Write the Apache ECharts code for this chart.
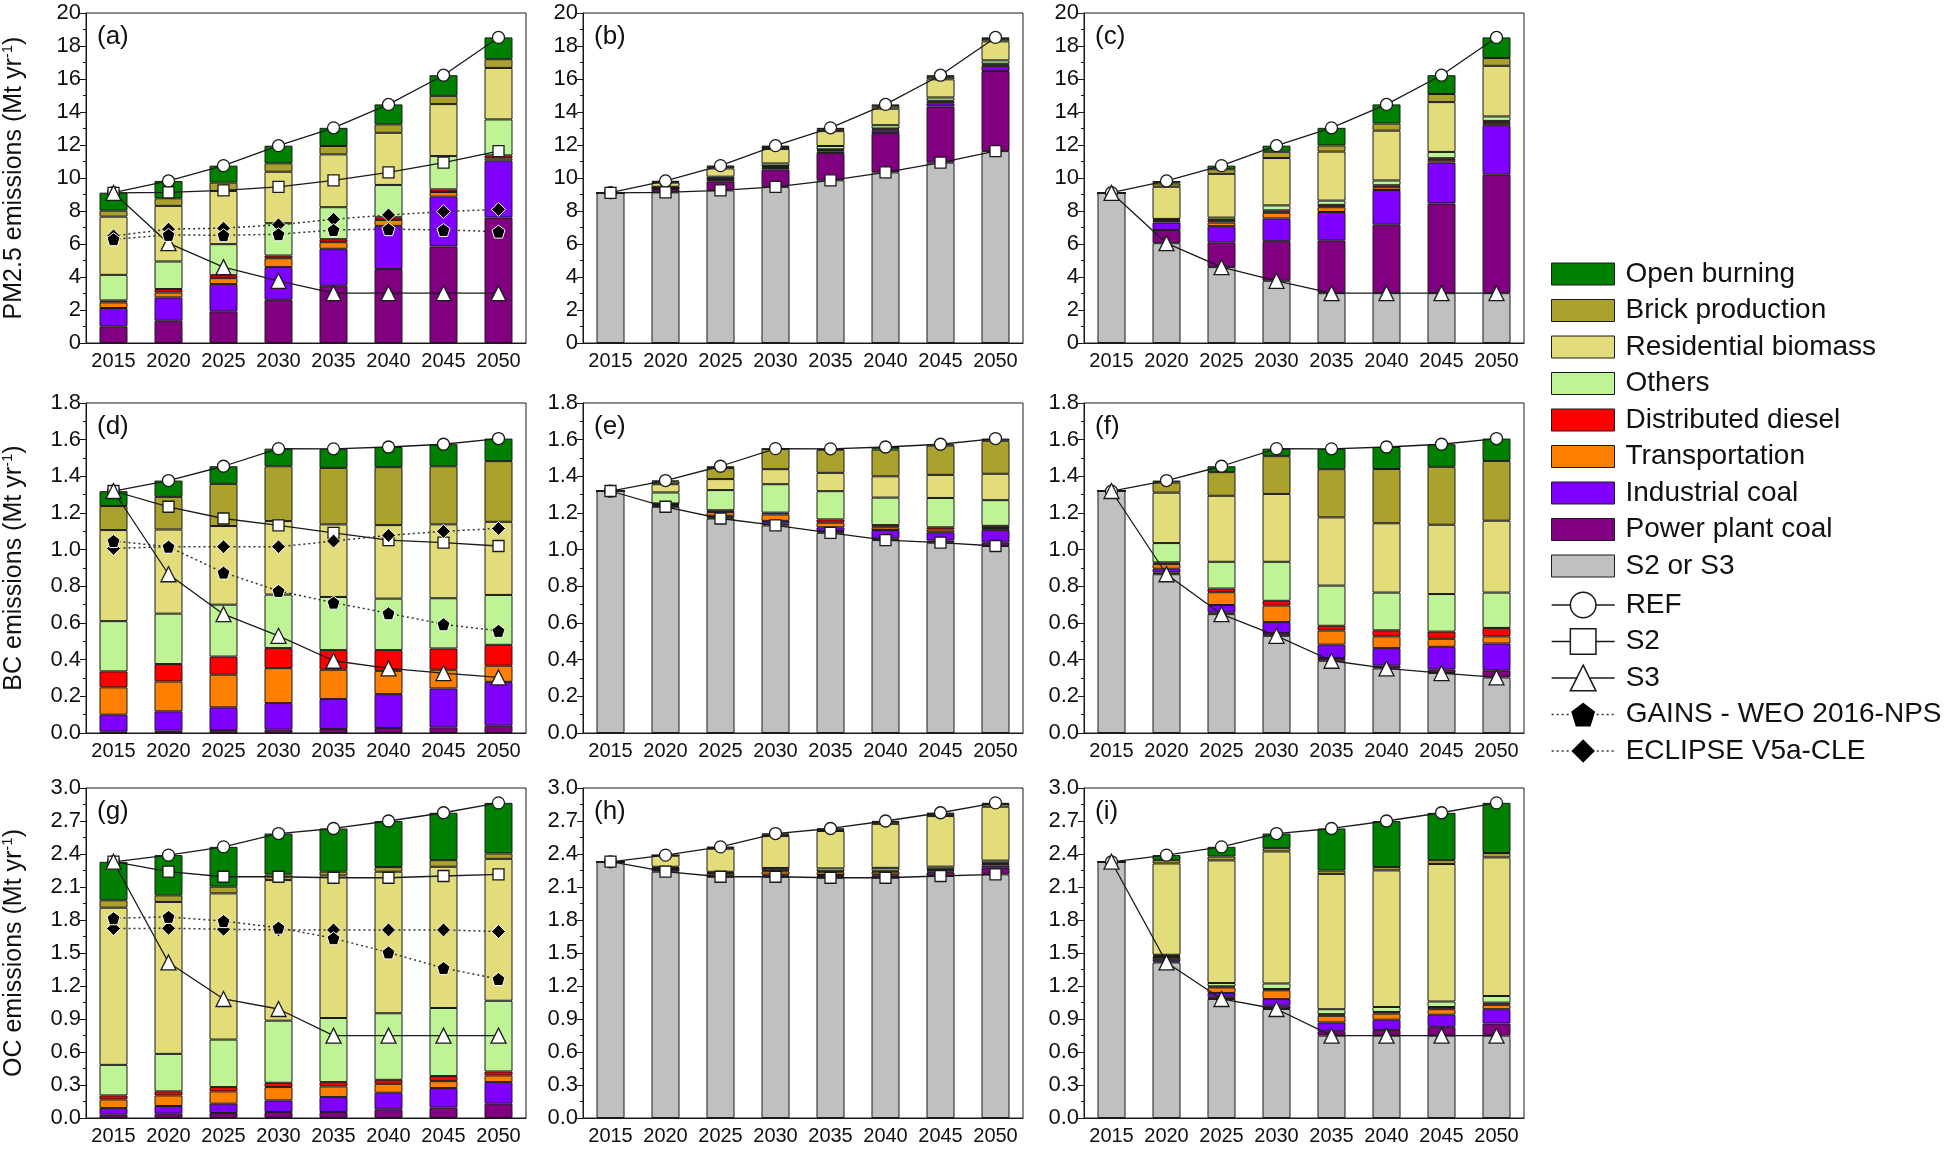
<!DOCTYPE html>
<html>
<head>
<meta charset="utf-8">
<title>PM2.5, BC and OC emission scenarios</title>
<script src="https://cdn.jsdelivr.net/npm/echarts@6/dist/echarts.min.js"></script>
<style>
  html, body { margin: 0; padding: 0; background: #fff; }
  #chart { width: 1950px; height: 1149px; }
</style>
</head>
<body>
<div id="chart"></div>
<script>
const years = ['2015', '2020', '2025', '2030', '2035', '2040', '2045', '2050'];

// stacking order, bottom -> top
const sectors = ['Power plant coal', 'Industrial coal', 'Transportation', 'Distributed diesel',
  'Others', 'Residential biomass', 'Brick production', 'Open burning'];
const sectorColors = ['#800080', '#8000ff', '#ff8000', '#ff0000', '#bef495', '#e3dc7a', '#aba12d', '#008000'];

// ---- PM2.5 (Mt/yr) ----
// REF emissions by sector (rows follow `sectors`)
const pmRef = [
  [1.01, 1.35, 1.92, 2.62, 3.47, 4.48, 5.85, 7.60],
  [1.11, 1.41, 1.65, 1.98, 2.24, 2.62, 3.02, 3.45],
  [0.34, 0.30, 0.36, 0.54, 0.40, 0.36, 0.28, 0.14],
  [0.12, 0.21, 0.18, 0.16, 0.18, 0.16, 0.16, 0.18],
  [1.55, 1.67, 1.88, 1.96, 1.94, 1.96, 2.02, 2.18],
  [3.53, 3.37, 3.22, 3.12, 3.20, 3.16, 3.15, 3.12],
  [0.36, 0.46, 0.51, 0.51, 0.51, 0.51, 0.50, 0.53],
  [1.09, 1.05, 1.03, 1.07, 1.10, 1.21, 1.25, 1.32]
];
// reductions REF -> S2 by sector
const pmCutS2 = [
  [0, 0.20, 0.55, 1.05, 1.65, 2.38, 3.40, 4.85],
  [0, 0.05, 0.10, 0.10, 0.10, 0.15, 0.20, 0.30],
  [0, 0.02, 0.05, 0.07, 0.08, 0.08, 0.10, 0.10],
  [0, 0.02, 0.03, 0.05, 0.05, 0.05, 0.05, 0.05],
  [0, 0.05, 0.10, 0.15, 0.20, 0.20, 0.20, 0.20],
  [0, 0.25, 0.50, 0.88, 0.90, 1.00, 1.10, 1.15],
  [0, 0.05, 0.10, 0.12, 0.12, 0.15, 0.15, 0.15],
  [0, 0.05, 0.07, 0.08, 0.08, 0.11, 0.10, 0.09]
];
// reductions REF -> S3 by sector
const pmCutS3 = [
  [0, 0.80, 1.50, 2.40, 3.20, 4.15, 5.44, 7.20],
  [0, 0.45, 0.98, 1.38, 1.72, 2.10, 2.48, 2.98],
  [0, 0.10, 0.22, 0.34, 0.29, 0.17, 0.14, 0.14],
  [0, 0.07, 0.15, 0.15, 0.14, 0.12, 0.12, 0.12],
  [0, 0.05, 0.15, 0.30, 0.26, 0.29, 0.38, 0.27],
  [0, 1.95, 2.65, 2.87, 2.97, 3.02, 3.02, 3.07],
  [0, 0.20, 0.28, 0.38, 0.37, 0.43, 0.49, 0.47],
  [0, 0.15, 0.22, 0.37, 1.07, 1.16, 1.14, 1.25]
];
const pmREF = [9.11, 9.82, 10.75, 11.96, 13.04, 14.46, 16.23, 18.52];
const pmS2 = [9.1, 9.13, 9.25, 9.46, 9.86, 10.34, 10.93, 11.63];
const pmS3 = [9.1, 6.05, 4.6, 3.77, 3.02, 3.02, 3.02, 3.02];
const pmGAINS = [6.29, 6.55, 6.53, 6.59, 6.85, 6.9, 6.85, 6.75];
const pmECLIPSE = [6.49, 6.9, 6.96, 7.16, 7.5, 7.76, 7.96, 8.1];

// ---- BC (Mt/yr) ----
const bcRef = [
  [0.007, 0.013, 0.016, 0.018, 0.022, 0.027, 0.031, 0.040],
  [0.093, 0.105, 0.124, 0.145, 0.163, 0.185, 0.212, 0.239],
  [0.149, 0.163, 0.178, 0.191, 0.160, 0.127, 0.102, 0.088],
  [0.087, 0.095, 0.099, 0.109, 0.107, 0.113, 0.116, 0.114],
  [0.274, 0.275, 0.283, 0.292, 0.290, 0.281, 0.274, 0.272],
  [0.497, 0.459, 0.429, 0.401, 0.396, 0.401, 0.403, 0.399],
  [0.131, 0.178, 0.230, 0.299, 0.308, 0.316, 0.317, 0.331],
  [0.081, 0.089, 0.096, 0.096, 0.104, 0.110, 0.120, 0.123]
];
const bcCutS2 = [
  [0, 0.005, 0.005, 0.010, 0.010, 0.010, 0.012, 0.020],
  [0, 0.005, 0.010, 0.015, 0.020, 0.045, 0.045, 0.068],
  [0, 0.005, 0.020, 0.035, 0.025, 0.015, 0.015, 0.010],
  [0, 0.003, 0.010, 0.010, 0.018, 0.012, 0.012, 0.012],
  [0, 0.060, 0.110, 0.155, 0.154, 0.150, 0.160, 0.140],
  [0, 0.045, 0.060, 0.082, 0.100, 0.116, 0.126, 0.144],
  [0, 0.015, 0.060, 0.110, 0.126, 0.146, 0.160, 0.180],
  [0, 0.005, 0.010, 0.002, 0.005, 0.014, 0.007, 0.012]
];
const bcCutS3 = [
  [0, 0.010, 0.010, 0.015, 0.015, 0.015, 0.020, 0.039],
  [0, 0.020, 0.040, 0.060, 0.073, 0.096, 0.123, 0.146],
  [0, 0.025, 0.070, 0.090, 0.077, 0.064, 0.044, 0.039],
  [0, 0.010, 0.020, 0.026, 0.026, 0.033, 0.039, 0.046],
  [0, 0.105, 0.146, 0.213, 0.219, 0.206, 0.205, 0.193],
  [0, 0.275, 0.360, 0.370, 0.372, 0.378, 0.378, 0.392],
  [0, 0.055, 0.129, 0.206, 0.263, 0.296, 0.316, 0.326],
  [0, 0.011, 0.032, 0.041, 0.111, 0.120, 0.123, 0.122]
];
const bcREF = [1.319, 1.377, 1.455, 1.551, 1.55, 1.56, 1.575, 1.606];
const bcS2 = [1.32, 1.234, 1.17, 1.132, 1.092, 1.052, 1.038, 1.02];
const bcS3 = [1.32, 0.866, 0.648, 0.53, 0.394, 0.352, 0.327, 0.303];
const bcGAINS = [1.047, 1.016, 0.875, 0.775, 0.711, 0.653, 0.593, 0.557];
const bcECLIPSE = [1.007, 1.016, 1.016, 1.016, 1.047, 1.078, 1.1, 1.116];

// ---- OC (Mt/yr) ----
const ocRef = [
  [0.030, 0.039, 0.045, 0.054, 0.054, 0.079, 0.094, 0.130],
  [0.060, 0.070, 0.085, 0.106, 0.136, 0.151, 0.178, 0.196],
  [0.079, 0.096, 0.112, 0.121, 0.097, 0.081, 0.063, 0.061],
  [0.036, 0.037, 0.039, 0.039, 0.039, 0.036, 0.046, 0.036],
  [0.278, 0.341, 0.432, 0.565, 0.583, 0.605, 0.619, 0.643],
  [1.429, 1.381, 1.329, 1.278, 1.296, 1.287, 1.284, 1.290],
  [0.067, 0.060, 0.061, 0.051, 0.034, 0.042, 0.060, 0.049],
  [0.350, 0.366, 0.362, 0.372, 0.393, 0.419, 0.431, 0.460]
];
const ocCutS2 = [
  [0, 0.020, 0.005, 0.010, 0.015, 0.020, 0.030, 0.060],
  [0, 0.005, 0.005, 0.010, 0.010, 0.010, 0.010, 0.020],
  [0, 0.005, 0.020, 0.030, 0.025, 0.025, 0.015, 0.015],
  [0, 0.005, 0.005, 0.010, 0.010, 0.010, 0.010, 0.010],
  [0, 0.010, 0.010, 0.020, 0.025, 0.025, 0.020, 0.020],
  [0, 0.100, 0.210, 0.290, 0.340, 0.400, 0.460, 0.490],
  [0, 0.005, 0.010, 0.015, 0.015, 0.018, 0.020, 0.025],
  [0, 0.001, 0.007, 0.008, 0.008, 0.008, 0.010, 0.010]
];
const ocCutS3 = [
  [0, 0.010, 0.020, 0.030, 0.040, 0.050, 0.080, 0.110],
  [0, 0.020, 0.035, 0.060, 0.080, 0.095, 0.110, 0.130],
  [0, 0.020, 0.050, 0.080, 0.060, 0.055, 0.050, 0.040],
  [0, 0.010, 0.010, 0.012, 0.015, 0.015, 0.020, 0.020],
  [0, 0.010, 0.030, 0.050, 0.045, 0.045, 0.050, 0.060],
  [0, 0.830, 1.115, 1.200, 1.230, 1.242, 1.250, 1.260],
  [0, 0.030, 0.035, 0.030, 0.030, 0.030, 0.035, 0.040],
  [0, 0.046, 0.088, 0.133, 0.383, 0.418, 0.430, 0.456]
];
const ocREF = [2.329, 2.39, 2.465, 2.586, 2.632, 2.70, 2.775, 2.865];
const ocS2 = [2.33, 2.239, 2.193, 2.193, 2.184, 2.184, 2.2, 2.215];
const ocS3 = [2.33, 1.414, 1.082, 0.991, 0.749, 0.749, 0.749, 0.749];
const ocGAINS = [1.816, 1.828, 1.79, 1.73, 1.634, 1.505, 1.363, 1.263];
const ocECLIPSE = [1.722, 1.725, 1.716, 1.71, 1.71, 1.71, 1.71, 1.695];

const FONT = 'Liberation Sans, Arial, sans-serif';
const INK = '#1a1a1a';
const pentagon = 'path://M50,0L97.55,34.55L79.39,90.45L20.61,90.45L2.45,34.55Z';

const rows = [
  { yName: 'PM2.5 emissions (Mt yr{sup|-1})', max: 20, interval: 2, digits: 0,
    ref: pmRef, cutS2: pmCutS2, cutS3: pmCutS3,
    REF: pmREF, S2: pmS2, S3: pmS3, GAINS: pmGAINS, ECLIPSE: pmECLIPSE },
  { yName: 'BC emissions (Mt yr{sup|-1})', max: 1.8, interval: 0.2, digits: 1,
    ref: bcRef, cutS2: bcCutS2, cutS3: bcCutS3,
    REF: bcREF, S2: bcS2, S3: bcS3, GAINS: bcGAINS, ECLIPSE: bcECLIPSE },
  { yName: 'OC emissions (Mt yr{sup|-1})', max: 3.0, interval: 0.3, digits: 1,
    ref: ocRef, cutS2: ocCutS2, cutS3: ocCutS3,
    REF: ocREF, S2: ocS2, S3: ocS3, GAINS: ocGAINS, ECLIPSE: ocECLIPSE }
];
const labels = ['(a)', '(b)', '(c)', '(d)', '(e)', '(f)', '(g)', '(h)', '(i)'];

const gridLeft = [86, 583, 1084];
const gridTop = [13, 403, 788];
const gridW = 440, gridH = 330;

function solidLine(name, data, symbol, size, g) {
  return {
    type: 'line', name: name, data: data, xAxisIndex: 2 * g, yAxisIndex: g, z: 4,
    symbol: symbol, symbolSize: size, showSymbol: true,
    lineStyle: { color: INK, width: 1.3 },
    itemStyle: { color: '#fff', borderColor: INK, borderWidth: 1.3 }
  };
}
function dottedLine(name, data, symbol, size, g) {
  return {
    type: 'line', name: name, data: data, xAxisIndex: 2 * g, yAxisIndex: g, z: 4,
    symbol: symbol, symbolSize: size,
    lineStyle: { color: '#333', width: 1.5, type: [2, 3] },
    itemStyle: { color: '#000', borderColor: '#fff', borderWidth: 1 }
  };
}

const grid = [], xAxis = [], yAxis = [], series = [], title = [];

rows.forEach((row, r) => {
  for (let c = 0; c < 3; c++) {
    const g = r * 3 + c;
    grid.push({
      left: gridLeft[c], top: gridTop[r], width: gridW, height: gridH,
      show: true, borderColor: INK, borderWidth: 1, backgroundColor: 'transparent',
      outerBoundsMode: 'none'
    });
    // main axis: labels, ticks at bar centres
    xAxis.push({
      type: 'category', gridIndex: g, position: 'bottom', data: years,
      axisLine: { lineStyle: { color: INK, width: 1 } },
      axisTick: { alignWithLabel: true, length: 6, lineStyle: { color: INK } },
      axisLabel: { interval: 0, fontSize: 20, color: '#111', margin: 8, fontFamily: FONT },
      splitLine: { show: false }
    });
    // short ticks between categories
    xAxis.push({
      type: 'category', gridIndex: g, position: 'bottom', data: years,
      axisLine: { show: false },
      axisTick: { length: 3, lineStyle: { color: INK } },
      axisLabel: { show: false },
      splitLine: { show: false }
    });
    yAxis.push({
      type: 'value', gridIndex: g, min: 0, max: row.max, interval: row.interval,
      axisLine: { show: true, lineStyle: { color: INK, width: 1 } },
      axisTick: { show: true, length: 6, lineStyle: { color: INK } },
      minorTick: { show: true, splitNumber: 2, length: 3, lineStyle: { color: INK } },
      splitLine: { show: false },
      axisLabel: {
        fontSize: 22, color: '#111', margin: 5, fontFamily: FONT,
        formatter: v => v.toFixed(row.digits)
      },
      name: c === 0 ? row.yName : '',
      nameLocation: 'middle', nameRotate: 90, nameGap: 58,
      nameTextStyle: {
        fontSize: 25, color: '#111', fontFamily: FONT, lineHeight: 28,
        rich: { sup: { fontSize: 15, verticalAlign: 'top', fontFamily: FONT, color: '#111' } }
      }
    });

    title.push({
      text: labels[g], left: gridLeft[c] + 6, top: gridTop[r] + 6,
      textStyle: { fontSize: 26, fontWeight: 'normal', color: '#111', fontFamily: FONT }
    });

    // bars
    let stackData = row.ref;
    if (c > 0) {
      series.push({
        type: 'bar', name: 'S2 or S3', stack: 's' + g, xAxisIndex: 2 * g, yAxisIndex: g,
        barWidth: 28, data: c === 1 ? row.S2 : row.S3,
        itemStyle: { color: '#c0c0c0', borderColor: INK, borderWidth: 1 }
      });
      stackData = c === 1 ? row.cutS2 : row.cutS3;
    }
    sectors.forEach((s, i) => {
      series.push({
        type: 'bar', name: s, stack: 's' + g, xAxisIndex: 2 * g, yAxisIndex: g,
        barWidth: 28, data: stackData[i],
        itemStyle: { color: sectorColors[i], borderColor: INK, borderWidth: 1 }
      });
    });

    // lines
    series.push(solidLine('REF', row.REF, 'circle', 12, g));
    if (c !== 2) series.push(solidLine('S2', row.S2, 'rect', 11, g));
    if (c !== 1) series.push(solidLine('S3', row.S3, 'triangle', 15, g));
    if (c === 0) {
      series.push(dottedLine('ECLIPSE V5a-CLE', row.ECLIPSE, 'diamond', 14, g));
      series.push(dottedLine('GAINS - WEO 2016-NPS', row.GAINS, pentagon, 13, g));
    }
  }
});

const myChart = echarts.init(document.getElementById('chart'));
const option = {
  animation: false,
  backgroundColor: '#fff',
  textStyle: { fontFamily: FONT },
  title: title,
  grid: grid,
  xAxis: xAxis,
  yAxis: yAxis,
  legend: [{
    orient: 'vertical', left: 1551, top: 260, padding: 0,
    icon: 'rect', itemWidth: 63, itemHeight: 22, itemGap: 8.5,
    selectedMode: false,
    itemStyle: { borderColor: INK, borderWidth: 1 },
    textStyle: { fontSize: 28, lineHeight: 28, color: '#111', fontFamily: FONT, padding: [0, 0, 0, 6] },
    data: ['Open burning', 'Brick production', 'Residential biomass', 'Others',
      'Distributed diesel', 'Transportation', 'Industrial coal', 'Power plant coal', 'S2 or S3']
  }, {
    orient: 'vertical', left: 1551, top: 591, padding: 0,
    itemWidth: 63, itemHeight: 32, itemGap: 8.5,
    selectedMode: false,
    lineStyle: { width: 1.3 },
    itemStyle: { borderWidth: 1.5 },
    textStyle: { fontSize: 28, lineHeight: 28, color: '#111', fontFamily: FONT, padding: [0, 0, 0, 6] },
    data: ['REF', 'S2', 'S3', 'GAINS - WEO 2016-NPS', 'ECLIPSE V5a-CLE']
  }],
  series: series
};
myChart.setOption(option);
window.addEventListener('resize', function () {
  myChart.resize();
});
</script>
</body>
</html>
